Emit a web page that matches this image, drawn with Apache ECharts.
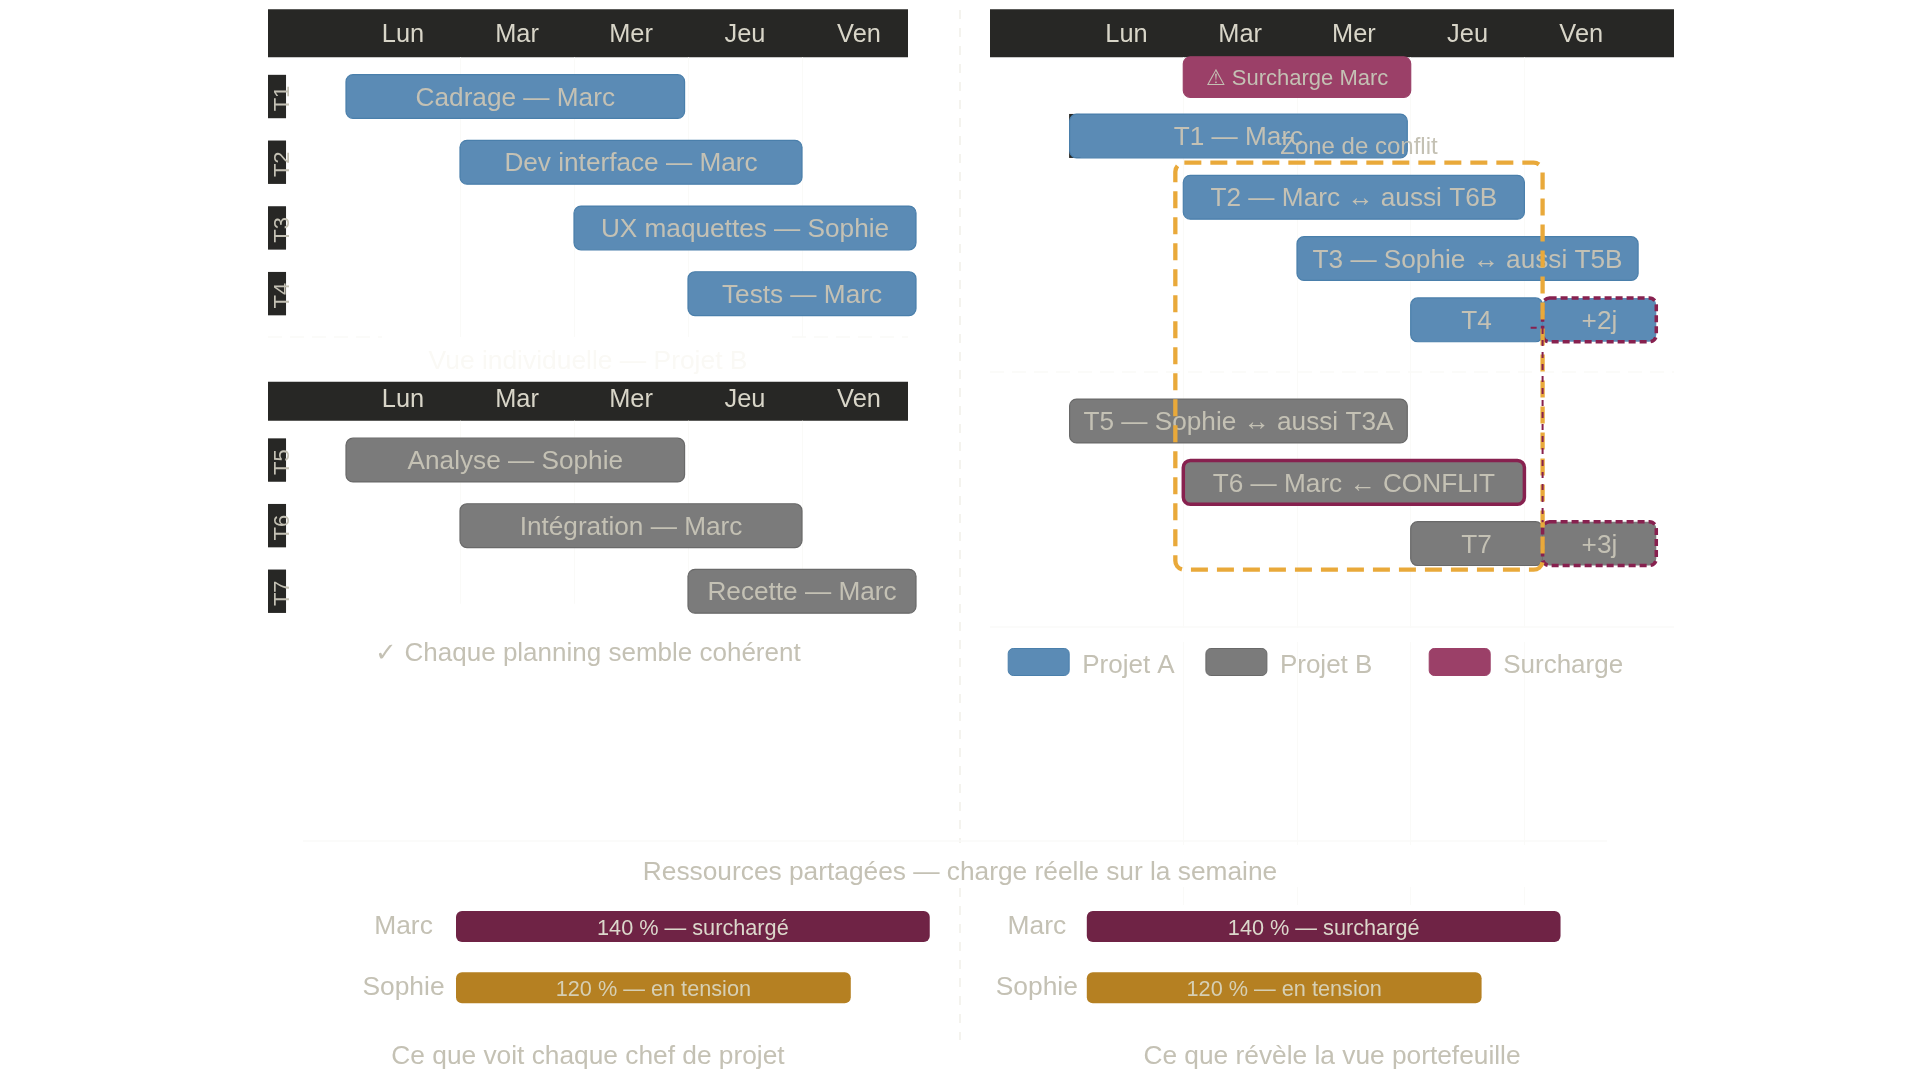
<!DOCTYPE html>
<html><head><meta charset="utf-8">
<style>html,body{margin:0;padding:0;background:#fff}#c{width:1920px;height:1080px}</style>
<script src="https://cdn.jsdelivr.net/npm/echarts@6/dist/echarts.min.js"></script>
</head><body><div id="c"></div>
<script>
var FONT = '"Liberation Sans",Arial,sans-serif';
var days = ['Lun','Mar','Mer','Jeu','Ven'];

// Vue individuelle, projet A
var tagsA = ['T1','T2','T3','T4'];
var namesA = ['Cadrage — Marc','Dev interface — Marc','UX maquettes — Sophie','Tests — Marc'];
var startsA = [0,1,2,3];
var endsA = [2.97,4,5,5];
// Vue individuelle, projet B
var tagsB = ['T5','T6','T7'];
var namesB = ['Analyse — Sophie','Intégration — Marc','Recette — Marc'];
var startsB = [0,1,3];
var endsB = [2.97,4,5];
// Vue portefeuille
var pfNamesA = ['T1 — Marc','T2 — Marc ↔ aussi T6B','T3 — Sophie ↔ aussi T5B','T4','+2j'];
var pfRowsA = [0,1,2,3,3];
var pfStartsA = [0,1,2,3,4.16];
var pfEndsA = [2.97,4,5,4.16,5.16];
var pfNamesB = ['T5 — Sophie ↔ aussi T3A','T6 — Marc ← CONFLIT','T7','+3j'];
var pfRowsB = [4.65,5.65,6.65,6.65];
var pfStartsB = [0,1,3,4.16];
var pfEndsB = [2.97,4,4.16,5.16];
var pfOverloadName = ['⚠ Surcharge Marc'];
var pfOverloadRow = [-0.96];
var pfOverloadStart = [1];
var pfOverloadEnd = [3];
var zoneStart = [0.93], zoneEnd = [4.16], zoneTop = [0.436], zoneBottom = [7.075];
// Charge
var people = ['Marc','Sophie'];
var loads = [140,120];
var loadLabels = ['140 % — surchargé','120 % — en tension'];

var BLUE='#5b8bb5', BLUEB='#4a7fab', GREY='#7b7b7b', GREYB='#696969', PLUM='#9b4068', PLUMB='#9b4068', CRIM='#87214f',
    TXT='#c4c1b4', HEAD='#272725', HTXT='#d8d5c8', ORANGE='#e9a93a', FAINT='#fafaf8';

function rectBar(api, x0, x1, row, hPx, o){
  var a = api.coord([x0,row]), b = api.coord([x1,row]);
  var kids = [{type:'rect', shape:{x:a[0],y:a[1]-hPx/2,width:b[0]-a[0],height:hPx,r:o.r==null?7:o.r},
    style:{fill:o.fill,stroke:o.stroke,lineWidth:o.lw==null?1.2:o.lw,lineDash:o.dash||null}}];
  if(o.text){kids.push({type:'text',x:(a[0]+b[0])/2,y:a[1]+2,style:{text:o.text,x:0,y:0,fill:o.tc||TXT,font:(o.fs||26.2)+'px '+FONT,align:'center',verticalAlign:'middle'}});}
  return {type:'group',children:kids};
}

var grids=[],xAxes=[],yAxes=[],series=[];
function addPanel(left,width,top,height,min,max,labelMargin){
  var i=grids.length;
  grids.push({left:left,top:top,width:width,height:height,containLabel:false});
  xAxes.push({type:'category',gridIndex:i,position:'top',data:days,boundaryGap:true,
    axisLine:{show:false},axisTick:{show:false},
    axisLabel:{color:HTXT,fontSize:25.4,fontFamily:FONT,margin:labelMargin},
    splitLine:{show:true,showMinLine:false,showMaxLine:false,lineStyle:{color:FAINT,width:1}}});
  xAxes.push({type:'value',gridIndex:i,min:0,max:5,show:false,splitLine:{show:false}});
  yAxes.push({type:'value',gridIndex:i,inverse:true,min:min,max:max,show:false,splitLine:{show:false}});
  return {x:xAxes.length-1,y:yAxes.length-1};
}
function tasks(ax,name,fill,stroke,tags,labels,starts,ends,hPx){
  series.push({type:'custom',name:name,xAxisIndex:ax.x,yAxisIndex:ax.y,z:3,coordinateSystem:'cartesian2d',clip:false,silent:true,
    data:labels.map(function(l,i){return [starts[i],ends[i],i];}),
    renderItem:function(p,api){
      var i=api.value(2);
      return rectBar(api,api.value(0),api.value(1),i,hPx,{fill:fill,stroke:stroke,text:labels[i]});
    }});
  series.push({type:'custom',xAxisIndex:ax.x,yAxisIndex:ax.y,z:3,clip:false,silent:true,
    data:tags.map(function(t,i){return [i];}),
    renderItem:function(p,api){
      var r=api.value(0),a=api.coord([-0.684,r]),b=api.coord([-0.526,r]);
      return {type:'group',children:[
        {type:'rect',shape:{x:a[0],y:a[1]-21.7,width:b[0]-a[0],height:43.4},style:{fill:HEAD}},
        {type:'text',x:a[0]+14.5,y:a[1]+2,rotation:Math.PI/2,style:{text:tags[r],fill:TXT,font:'22px '+FONT,align:'center',verticalAlign:'middle'}}
      ]};
    }});
}

var pA=addPanel(346,570,57.3,279.7,-0.597,3.66,10);
tasks(pA,'Projet A',BLUE,BLUEB,tagsA,namesA,startsA,endsA,43.8);
var pB=addPanel(346,570,420.7,183,-0.6,2.19,8.5);
tasks(pB,'Projet B',GREY,GREYB,tagsB,namesB,startsB,endsB,43.8);

var pR=addPanel(1069.6,568.5,57.3,847.7,-1.283,12.545,10);
// hidden tag under T1 in the portfolio view
series.push({type:'custom',xAxisIndex:pR.x,yAxisIndex:pR.y,z:2,clip:false,silent:true,data:[[0,0.1,0]],
  renderItem:function(p,api){
    var a=api.coord([api.value(0),api.value(2)]),b=api.coord([api.value(1),api.value(2)]);
    return {type:'rect',shape:{x:a[0]-0.5,y:a[1]-22,width:b[0]-a[0],height:44},style:{fill:HEAD}};
  }});
function pf(name,names,rows,starts,ends,fill,stroke){
  series.push({type:'custom',name:name,xAxisIndex:pR.x,yAxisIndex:pR.y,z:3,clip:false,silent:true,
    data:names.map(function(n,i){return [starts[i],ends[i],rows[i],i];}),
    renderItem:function(p,api){
      var i=api.value(3),n=names[i],o={fill:fill,stroke:stroke,text:n};
      var h=43.8;
      if(n.charAt(0)==='+'){o.stroke=CRIM;o.dash=[7,4];o.lw=3.5;}
      if(n.indexOf('CONFLIT')>=0){o.stroke=CRIM;o.lw=3.5;}
      if(n.charAt(0)==='⚠'){h=40.6;o.fs=22;}
      return rectBar(api,api.value(0),api.value(1),api.value(2),h,o);
    }});
}
pf('Projet A',pfNamesA,pfRowsA,pfStartsA,pfEndsA,BLUE,BLUEB);
pf('Projet B',pfNamesB,pfRowsB,pfStartsB,pfEndsB,GREY,GREYB);
pf('Surcharge',pfOverloadName,pfOverloadRow,pfOverloadStart,pfOverloadEnd,PLUM,PLUMB);

// connector + zone
series.push({type:'custom',xAxisIndex:pR.x,yAxisIndex:pR.y,z:4,clip:false,silent:true,data:[[zoneStart[0],zoneEnd[0],zoneTop[0],zoneBottom[0]]],
  renderItem:function(p,api){
    var a=api.coord([api.value(0),api.value(2)]),b=api.coord([api.value(1),api.value(3)]);
    var c=api.coord([4.055,3.13]),d=api.coord([4.16,3.13]),e=api.coord([4.16,6.3]);
    return {type:'group',children:[
      {type:'rect',shape:{x:a[0],y:a[1],width:b[0]-a[0],height:b[1]-a[1],r:9},style:{fill:'none',stroke:ORANGE,lineWidth:4.3,lineDash:[17,9]}},
      {type:'polyline',shape:{points:[c,d,e]},style:{fill:'none',stroke:CRIM,lineWidth:2,lineDash:[6,6]}},
      {type:'text',x:(a[0]+b[0])/2,y:a[1]-15,style:{text:'Zone de conflit',fill:TXT,font:'24px '+FONT,align:'center',verticalAlign:'middle'}}
    ]};
  }});

// Charge bars
function loadBars(left,labelMargin){
  var i=grids.length;
  grids.push({left:left,top:896,width:552.7,height:122.2});
  xAxes.push({type:'value',gridIndex:i,min:20,max:160,show:false,splitLine:{show:false}});
  yAxes.push({type:'category',gridIndex:i,inverse:true,data:people,axisLine:{show:false},axisTick:{show:false},
    axisLabel:{color:TXT,fontSize:26.4,fontFamily:FONT,margin:labelMargin,align:'center',padding:[0,0,5,0]}});
  series.push({type:'bar',xAxisIndex:xAxes.length-1,yAxisIndex:yAxes.length-1,barWidth:31,silent:true,
    data:loads.map(function(v,k){return {value:v,itemStyle:{color:k===0?'#6f2345':'#b58022',borderRadius:6},
      label:{show:true,position:'inside',formatter:loadLabels[k],fontSize:21.7,fontFamily:FONT,color:k===0?'#dcd8cc':'#d6cfb4',offset:[0,2.5]}};})});
}
loadBars(456,52.5);
loadBars(1086.8,50);

function legend(left,name,fill,stroke){
  return {left:left,top:648,padding:0,itemWidth:61,itemHeight:27,selectedMode:false,orient:'horizontal',icon:'path://M5,0H56A5,5,0,0,1,61,5V22A5,5,0,0,1,56,27H5A5,5,0,0,1,0,22V5A5,5,0,0,1,5,0Z',
    formatter:'{t|{name}}',
    textStyle:{color:TXT,fontSize:26,fontFamily:FONT,padding:[0,0,0,8],rich:{t:{color:TXT,fontSize:26,fontFamily:FONT,padding:[8,0,0,0]}}},
    data:[{name:name,itemStyle:{color:fill,borderColor:stroke,borderWidth:1}}]};
}

function text(x,y,t,size,color){return {type:'text',x:x,y:y,z:3,silent:true,style:{text:t,fill:color||TXT,font:size+'px '+FONT,align:'center',verticalAlign:'middle'}};}
function mask(x,y,w,h){return {type:'rect',z:1,silent:true,shape:{x:x,y:y,width:w,height:h},style:{fill:'#fff'}};}
function fline(x1,y1,x2,y2,dash,col,w){return {type:'line',z:2,silent:true,shape:{x1:x1,y1:y1,x2:x2,y2:y2},style:{stroke:col||FAINT,lineWidth:w||1.5,lineDash:dash||null}};}
var graphicEls=[
  {type:'rect',z:-1,silent:true,shape:{x:268,y:9.3,width:640,height:48},style:{fill:HEAD}},
  {type:'rect',z:-1,silent:true,shape:{x:268,y:381.7,width:640,height:39},style:{fill:HEAD}},
  {type:'rect',z:-1,silent:true,shape:{x:990,y:9.3,width:684,height:48},style:{fill:HEAD}},
  mask(300,845,1320,42),
  mask(990,628,684,14),
  fline(960,10,960,843,[9,9],'#f4f3ee',2),
  fline(960,888,960,1040,[9,9],'#f4f3ee',2),
  fline(268,337,382,337,[14,8]),
  fline(792,337,908,337,[14,8]),
  fline(990,372,1674,372,[14,8]),
  fline(990,627,1674,627),
  fline(303,841,1607,841),
  text(588,361.5,'Vue individuelle — Projet B',26.4,'#faf9f5'),
  text(588,654,'✓ Chaque planning semble cohérent',26),
  text(960,873,'Ressources partagées — charge réelle sur la semaine',26.3),
  text(588,1057,'Ce que voit chaque chef de projet',26.3),
  text(1332,1057,'Ce que révèle la vue portefeuille',26.3)
];

var chart=echarts.init(document.getElementById('c'),null,{renderer:'canvas',width:1920,height:1080});
chart.setOption({
  animation:false,backgroundColor:'#fff',
  textStyle:{fontFamily:FONT},
  grid:grids,xAxis:xAxes,yAxis:yAxes,series:series,
  legend:[legend(1007.7,'Projet A',BLUE,BLUEB),legend(1205.4,'Projet B',GREY,GREYB),legend(1428.7,'Surcharge',PLUM,PLUMB)],
  graphic:{elements:graphicEls}
});
</script></body></html>
